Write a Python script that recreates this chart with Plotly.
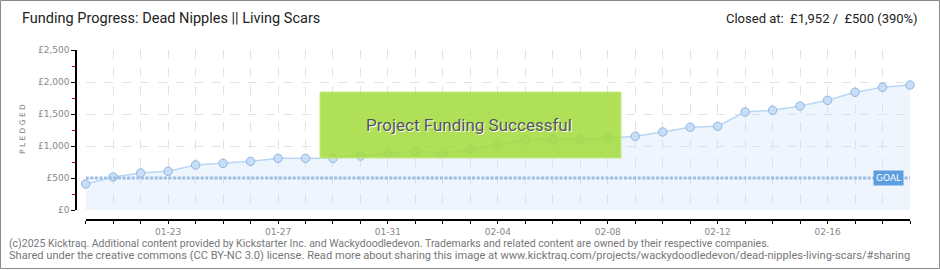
import plotly.graph_objects as go

# ---- data ----
dates = ["01-20", "01-21", "01-22", "01-23", "01-24", "01-25", "01-26", "01-27",
         "01-28", "01-29", "01-30", "01-31", "02-01", "02-02", "02-03", "02-04",
         "02-05", "02-06", "02-07", "02-08", "02-09", "02-10", "02-11", "02-12",
         "02-13", "02-14", "02-15", "02-16", "02-17", "02-18", "02-19"]
pledged = [406, 516, 578, 604, 703, 729, 760, 807, 807, 807, 843, 885, 921, 885,
           948, 1011, 1105, 1105, 1105, 1120, 1152, 1219, 1292, 1308, 1531, 1558,
           1625, 1714, 1839, 1917, 1952]
goal = 500
x_tick_labels = ["01-23", "01-27", "01-31", "02-04", "02-08", "02-12", "02-16"]
y_tick_vals = [0, 500, 1000, 1500, 2000, 2500]
y_tick_text = ["£0", "£500", "£1,000", "£1,500", "£2,000", "£2,500"]

W, H = 940, 270
ML, MR, MT, MB = 76, 30, 50, 50
PW = W - ML - MR
PH = H - MT - MB


def px(xp):
    return (xp - ML) / PW


def py(yp):
    return (H - MB - yp) / PH


fig = go.Figure()

fig.add_trace(go.Scatter(
    x=dates, y=pledged, mode="lines+markers",
    fill="tozeroy", fillcolor="rgba(205,225,248,0.35)",
    line=dict(color="#b9d7f5", width=1.5),
    marker=dict(size=8.5, color="#c6def7", line=dict(color="#92b6de", width=1)),
    cliponaxis=False, hoverinfo="x+y", showlegend=False,
))

fig.add_trace(go.Scatter(
    x=[dates[0], dates[-1]], y=[goal, goal], mode="lines",
    line=dict(color="#9bbde6", width=3, dash="3px,1.6px"),
    hoverinfo="skip", showlegend=False, cliponaxis=False,
))

shapes = [
    # outer frame
    dict(type="rect", xref="paper", yref="paper",
         x0=px(0.5), x1=px(939.5), y0=py(268.5), y1=py(0.5),
         line=dict(color="#8a8a8a", width=1), fillcolor="rgba(0,0,0,0)", layer="below"),
    # success box
    dict(type="rect", xref="paper", yref="paper",
         x0=px(320), x1=px(621), y0=py(158), y1=py(92),
         line=dict(color="#c4ea8a", width=1), fillcolor="rgba(164,220,64,0.88)",
         layer="above"),
]

annotations = [
    dict(text="Funding Progress: Dead Nipples || Living Scars", xref="paper", yref="paper",
         x=px(20), y=py(18), xanchor="left", yanchor="middle", showarrow=False,
         font=dict(family="Roboto", size=14.5, color="#222")),
    dict(text="Closed at:  £1,952 /  £500 (390%)", xref="paper", yref="paper",
         x=px(920), y=py(18), xanchor="right", yanchor="middle", showarrow=False,
         font=dict(family="Roboto", size=13, color="#222")),
    dict(text="P L E D G E D", xref="paper", yref="paper", x=px(22), y=py(129),
         xanchor="center", yanchor="middle", textangle=-90, showarrow=False,
         font=dict(family="DejaVu Sans", size=7.5, color="#777")),
    dict(text="Project Funding Successful", xref="paper", yref="paper",
         x=px(469), y=py(125), xanchor="center", yanchor="middle", showarrow=False,
         font=dict(family="Roboto", size=17, color="#555",
                   shadow="1px 1px 0px #ffffff")),
    dict(text="GOAL", xref="paper", yref="y", x=1, y=goal, xanchor="right",
         yanchor="middle", xshift=-6, showarrow=False, bgcolor="#5b9ee0",
         borderpad=2, font=dict(family="DejaVu Sans", size=9, color="#ffffff")),
    dict(text="(c)2025 Kicktraq. Additional content provided by Kickstarter Inc. and Wackydoodledevon. "
              "Trademarks and related content are owned by their respective companies.",
         xref="paper", yref="paper", x=px(7), y=py(243), xanchor="left", yanchor="middle",
         showarrow=False, font=dict(family="Roboto", size=10.5, color="#777")),
    dict(text="Shared under the creative commons (CC BY-NC 3.0) license. Read more about sharing "
              "this image at www.kicktraq.com/projects/wackydoodledevon/dead-nipples-living-scars/#sharing",
         xref="paper", yref="paper", x=px(7), y=py(256), xanchor="left", yanchor="middle",
         showarrow=False, font=dict(family="Roboto", size=11.1, color="#777")),
]

fig.update_layout(
    width=W, height=H,
    margin=dict(l=ML, r=MR, t=MT, b=MB),
    paper_bgcolor="#ffffff", plot_bgcolor="#ffffff",
    shapes=shapes, annotations=annotations,
    xaxis=dict(
        type="category", domain=[px(85.7), 1], range=[0, len(dates) - 1],
        anchor="free", position=0,
        tickmode="array", tickvals=dates,
        ticktext=[d if d in x_tick_labels else "" for d in dates],
        showline=True, linecolor="#000", linewidth=1.5,
        ticks="outside", ticklen=3, tickcolor="#000", tickwidth=1,
        showgrid=True, gridcolor="#e2e2e2", griddash="dash", gridwidth=1,
        tickfont=dict(family="DejaVu Sans", size=9, color="#888"),
        zeroline=False, fixedrange=True,
    ),
    yaxis=dict(
        domain=[py(210), 1], range=[0, 2500],
        anchor="free", position=0,
        tickmode="array", tickvals=y_tick_vals, ticktext=y_tick_text,
        showline=True, linecolor="#000", linewidth=1.5,
        ticks="outside", ticklen=4, tickcolor="#000", tickwidth=1,
        minor=dict(dtick=250, ticks="outside", ticklen=3, tickcolor="#e00000", showgrid=False),
        showgrid=True, gridcolor="#e2e2e2", griddash="dash", gridwidth=1,
        tickfont=dict(family="DejaVu Sans", size=9, color="#888"),
        zeroline=False, fixedrange=True,
    ),
)

fig.write_html("out.html")
